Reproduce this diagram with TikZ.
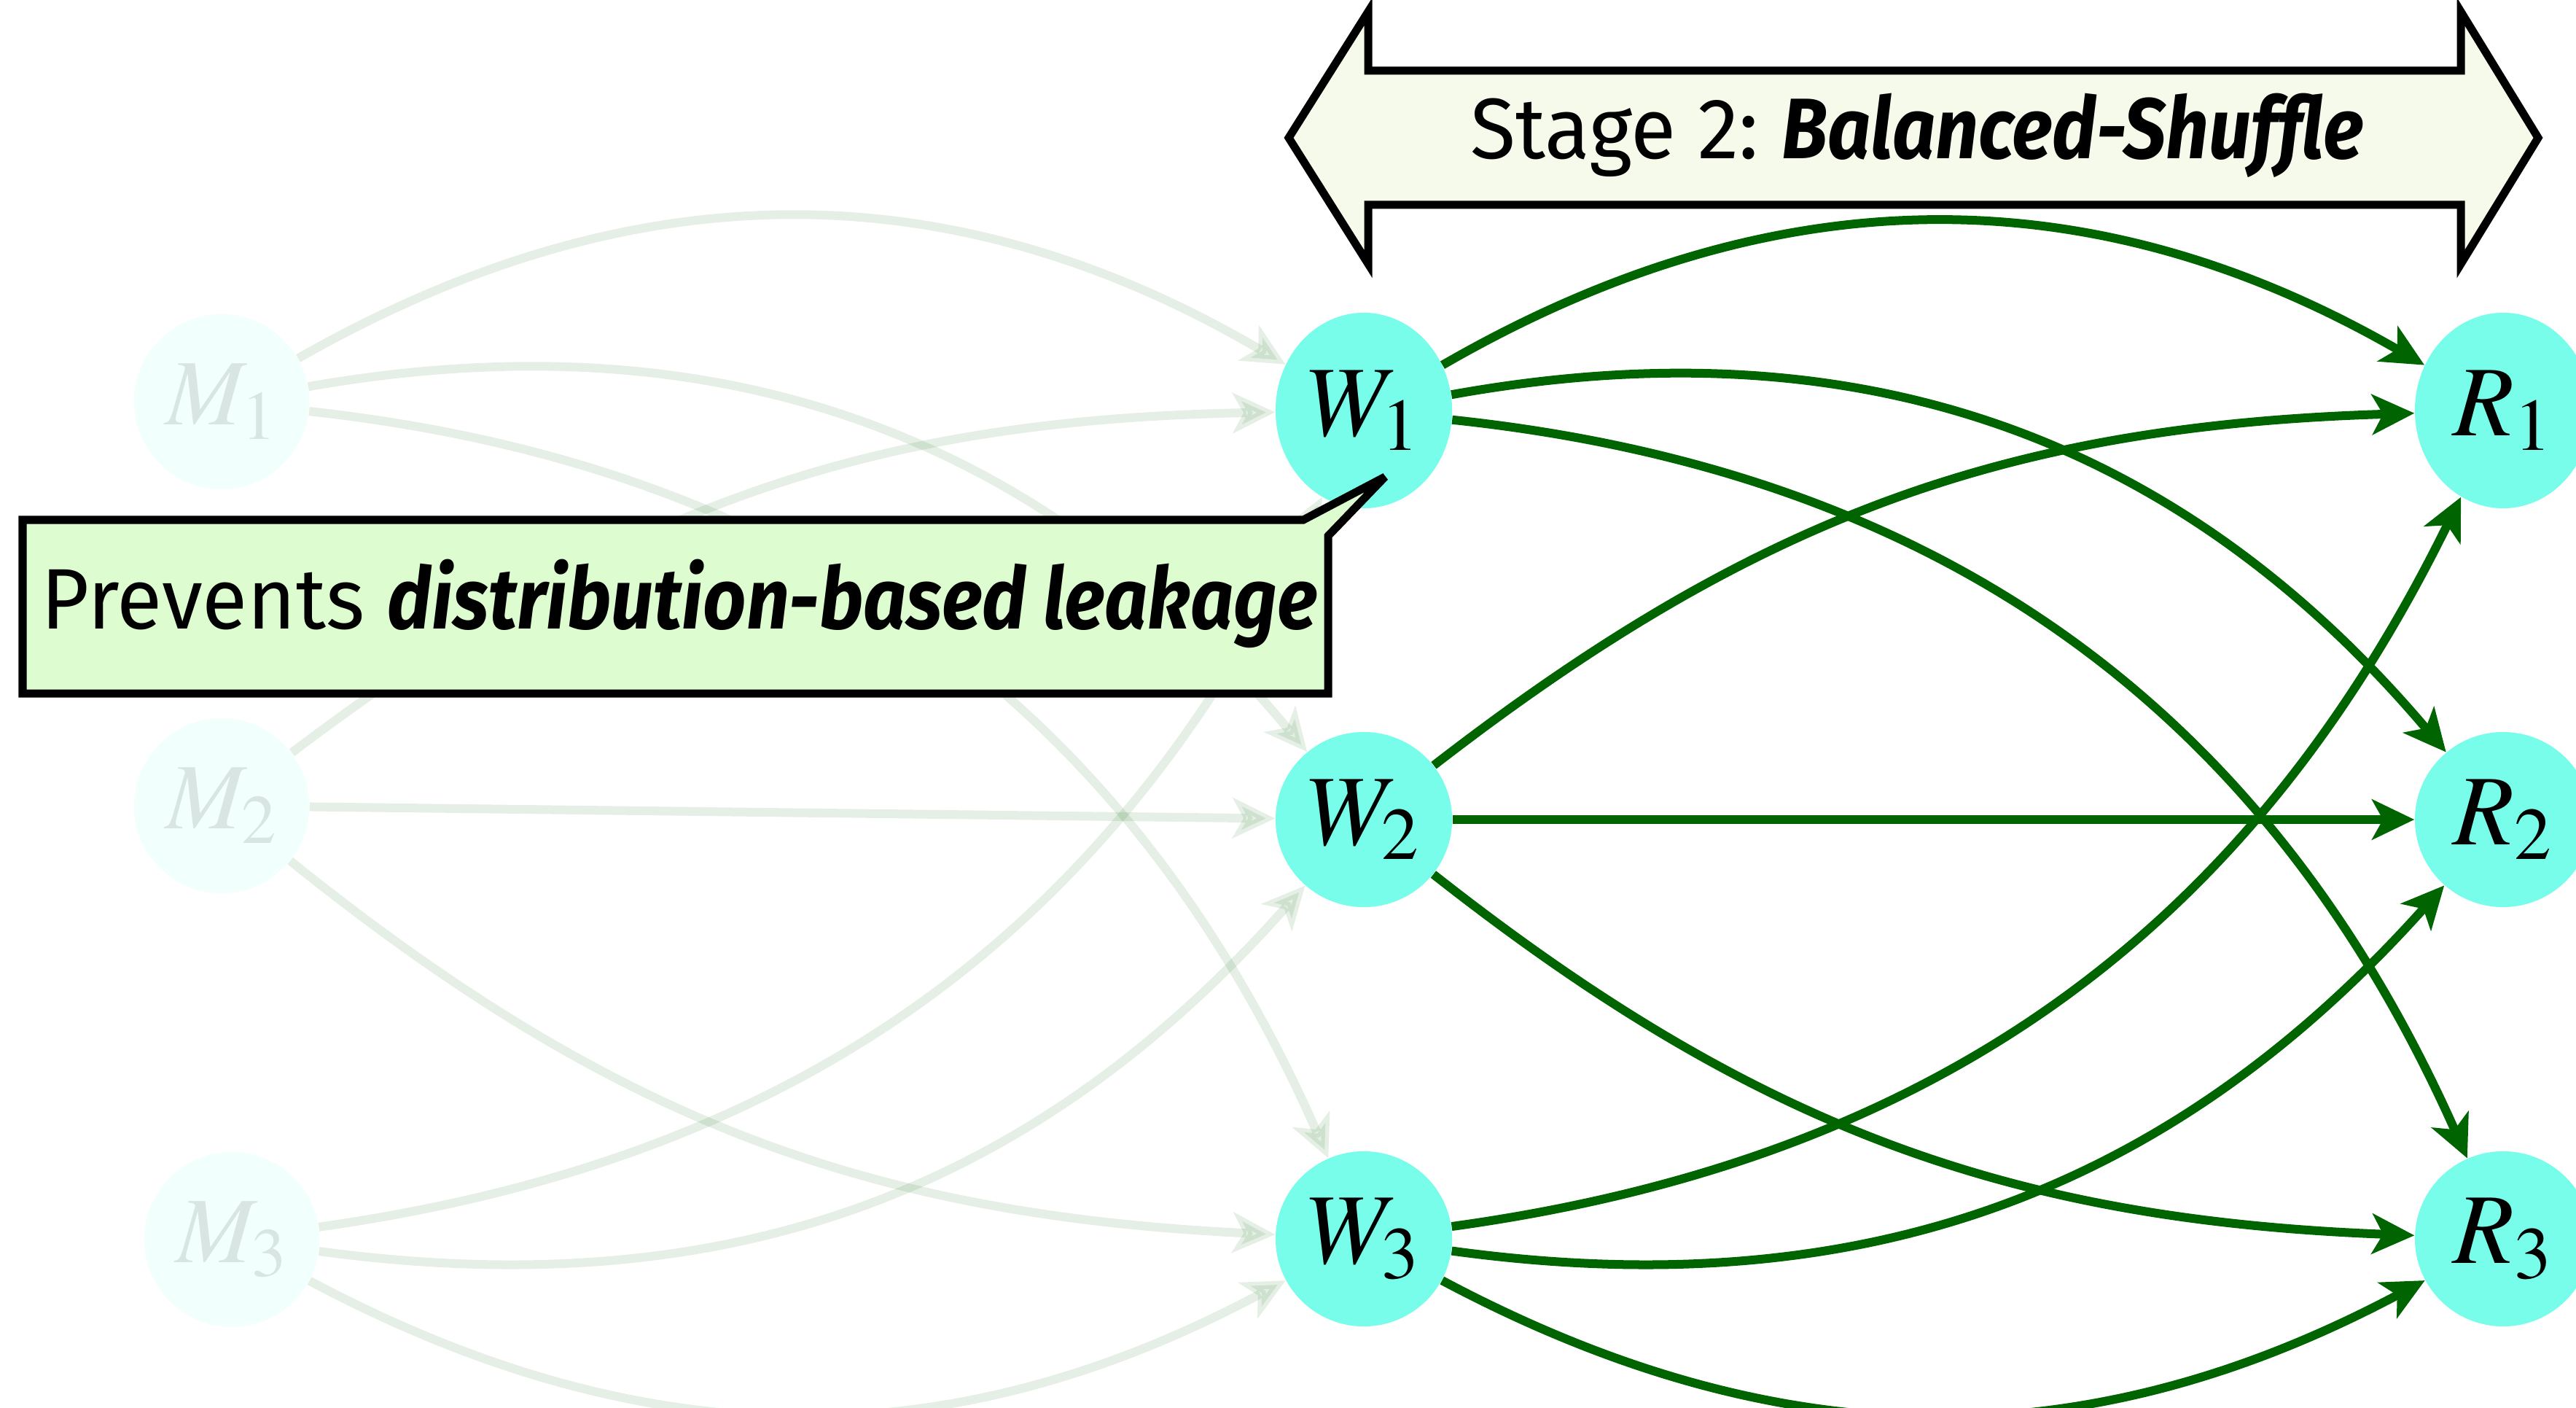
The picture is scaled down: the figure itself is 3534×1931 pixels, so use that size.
\documentclass[tikz,border=0pt]{standalone}
\usepackage{graphicx}
\usepackage{mathptmx}
\usepackage[no-math]{fontspec}
\setmainfont{Fira Sans}
\usetikzlibrary{arrows.meta,shapes.geometric}

\definecolor{nodefill}{RGB}{119,253,233}
\definecolor{edgegreen}{RGB}{0,100,0}
\definecolor{stagefill}{RGB}{246,250,234}
\definecolor{notefill}{RGB}{221,252,208}

% narrower setting of the sans text
\newcommand{\plaintxt}[1]{\scalebox{0.965}[1]{#1}}
\newcommand{\strongtxt}[1]{\scalebox{0.88}[1]{\bfseries\itshape #1}}

\tikzset{
  proc/.style={ellipse, fill=nodefill, inner sep=0pt,
    minimum width=2.42cm, minimum height=2.4cm,
    font=\fontsize{39}{39}\selectfont},
  tallproc/.style={proc, minimum height=2.68cm},
  mapper/.style={circle, fill=nodefill, inner sep=0pt, minimum size=2.4cm,
    opacity=0.1, font=\fontsize{36.5}{36.5}\selectfont},
  flow/.style={line width=0.12cm, draw=edgegreen,
    -{Stealth[length=0.58cm,width=0.55cm,inset=0.15cm]}},
  ghost/.style={flow, opacity=0.1},
  banner/.style={draw=black, line width=0.11cm},
  bannertext/.style={font=\fontsize{33.5}{40}\selectfont, inner sep=0pt,
    anchor=base},
}

\begin{document}
\begin{tikzpicture}[x=0.01cm, y=0.01cm]
\useasboundingbox (0,0) rectangle (3534,-1931);

% mappers (faded), workers, reducers
\node[mapper] (m1) at (304,-551) {$M_1$};
\node[mapper] (m2) at (304,-1105) {$M_2$};
\node[mapper] (m3) at (318,-1700) {$M_3$};

\node[tallproc] (w1) at (1871,-563) {$W_1$};
\node[proc] (w2) at (1871,-1124) {$W_2$};
\node[proc] (w3) at (1871,-1699) {$W_3$};

\node[tallproc] (r1) at (3434,-563) {$R_1$};
\node[proc] (r2) at (3434,-1124) {$R_2$};
\node[proc] (r3) at (3434,-1699) {$R_3$};

% first stage, faded
\draw[ghost] (m1) to[bend left=30] (w1);
\draw[ghost] (m1) to[bend left=30] (w2);
\draw[ghost] (m1) to[bend left=30] (w3);
\draw[ghost] (m2) to[bend left=18] (w1);
\draw[ghost] (m2) -- (w2);
\draw[ghost] (m2) to[bend right=18] (w3);
\draw[ghost] (m3) to[bend right=28] (w1);
\draw[ghost] (m3) to[bend right=28] (w2);
\draw[ghost] (m3) to[bend right=28] (w3);

% balanced shuffle
\draw[flow] (w1) to[bend left=30] (r1);
\draw[flow] (w1) to[bend left=30] (r2);
\draw[flow] (w1) to[bend left=30] (r3);
\draw[flow] (w2) to[bend left=18] (r1);
\draw[flow] (w2) -- (r2);
\draw[flow] (w2) to[bend right=18] (r3);
\draw[flow] (w3) to[bend right=28] (r1);
\draw[flow] (w3) to[bend right=28] (r2);
\draw[flow] (w3) to[bend right=28] (r3);

% stage banner: double-headed arrow
\draw[banner, fill=stagefill]
  (1768,-189) -- (1877,-16) -- (1877,-97) -- (3376,-97) -- (3376,-16)
  -- (3482,-189) -- (3376,-362) -- (3376,-281) -- (1877,-281)
  -- (1877,-362) -- cycle;
\node[bannertext] (stage) at (2630,-218)
  {\plaintxt{Stage 2:} \strongtxt{Balanced-Shuffle}};

% callout pointing at W1
\coordinate (tip) at (1900,-654);
\draw[banner, fill=notefill, miter limit=5]
  (31,-713) -- (1788,-713) -- (tip) -- (1822,-735) -- (1822,-951)
  -- (31,-951) -- cycle;
\node[bannertext] (note) at (932,-862)
  {\plaintxt{Prevents} \strongtxt{distribution-based leakage}};
\end{tikzpicture}
\end{document}
